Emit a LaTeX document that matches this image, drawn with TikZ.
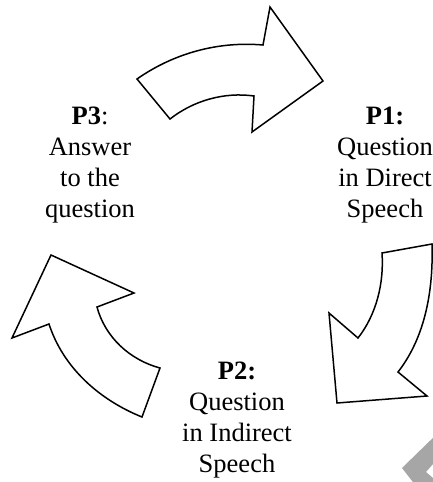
\documentclass[tikz,border=0pt]{standalone}
\usepackage{fontspec}
\setmainfont{Liberation Serif}
\usepackage{tikz}
\tikzset{
    arrowshape/.style={draw=black, line width=1.5pt, fill=white, line join=miter},
    phasetext/.style={align=center, font=\fontsize{26.5}{31}\selectfont, inner sep=0pt},
    cornermark/.style={fill=black!35}
}
\begin{document}
\begin{tikzpicture}[x=1pt, y=-1pt]
    \useasboundingbox (0,0) rectangle (433,482);

    % Top arrow
    \draw[arrowshape] (137,79) .. controls (173.9,53.2) and (218.2,41.1) .. (263,45)
        -- (270,7) -- (323,81) -- (252,132) -- (254,96)
        .. controls (224.3,91.8) and (193.6,100.5) .. (170,119) -- cycle;

    % Right arrow
    \draw[arrowshape] (382,253) -- (432,244)
        .. controls (433.4,289) and (425.7,336.5) .. (398,372)
        -- (427,396) -- (337,403) -- (329,313) -- (358,338)
        .. controls (376.5,314.4) and (384.1,282.9) .. (382,253) -- cycle;

    % Left arrow
    \draw[arrowshape] (51,255) -- (134,293) -- (97,307)
        .. controls (105.1,337.2) and (129.8,359.9) .. (160,368)
        -- (142,417) .. controls (99.3,399.8) and (63.2,367.7) .. (49,324)
        -- (12,338) -- cycle;

    % Phases
    \node[phasetext] (p1) at (385,165) {\textbf{P1:}\\Question\\in Direct\\Speech};
    \node[phasetext] (p2) at (237,420) {\textbf{P2:}\\Question\\in Indirect\\Speech};
    \node[phasetext] (p3) at (90,165) {\textbf{P3}:\\Answer\\to the\\question};

    % Cut-off mark in the corner
    \begin{scope}
        \clip (0,0) rectangle (433,482);
        \fill[cornermark] (440,431) -- (402,468) -- (416,486) -- (440,486)
            -- (440,484) -- (426,472) -- (440,456) -- cycle;
    \end{scope}
\end{tikzpicture}
\end{document}
